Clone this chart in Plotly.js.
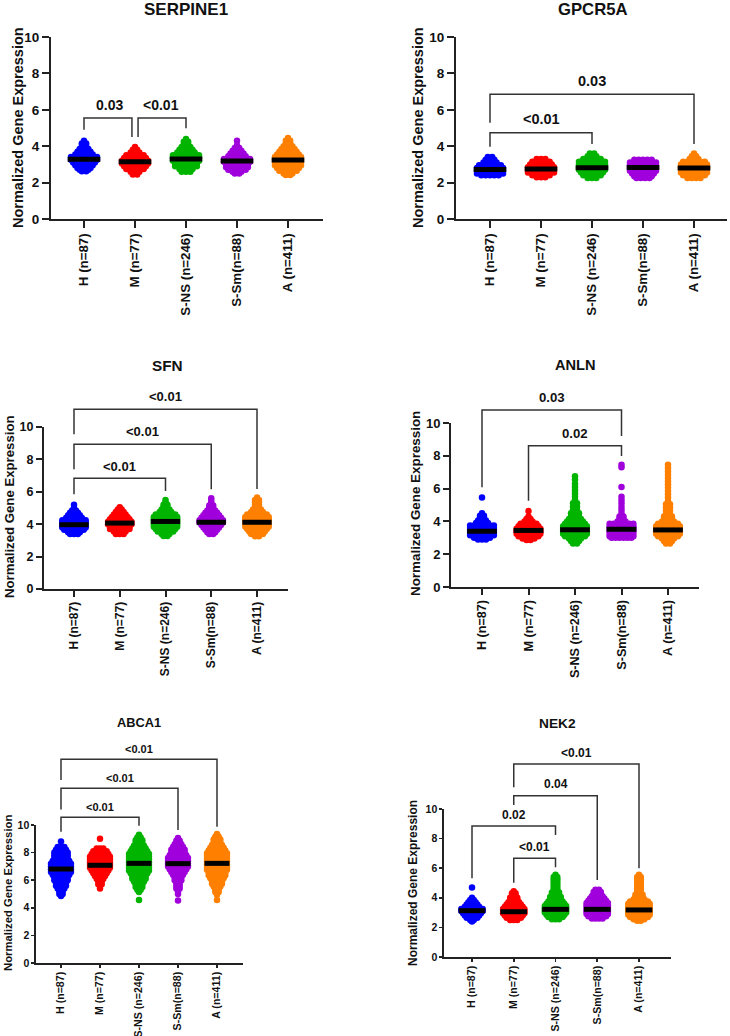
<!DOCTYPE html>
<html><head><meta charset="utf-8">
<script src="https://cdn.plot.ly/plotly-3.0.1.min.js"></script>
<style>html,body{margin:0;padding:0;background:#fff}#chart{width:730px;height:1036px}</style>
</head><body><div id="chart"></div>
<script>
// ---------------- DATA ----------------
const categories = ['H (n=87)', 'M (n=77)', 'S-NS (n=246)', 'S-Sm(n=88)', 'A (n=411)'];
const genes = ['SERPINE1', 'GPCR5A', 'SFN', 'ANLN', 'ABCA1', 'NEK2'];

// each group: rows of [expression value, dots drawn side by side at that value]
const SERPINE1_rows = [
  [[4.3,1],[4.15,2],[4.0,2],[3.85,3],[3.7,4],[3.55,5],[3.4,7],[3.25,7],[3.1,6],[2.95,5],[2.8,4],[2.7,3],[2.62,2]],
  [[3.95,1],[3.8,2],[3.65,3],[3.5,5],[3.35,6],[3.2,7],[3.05,7],[2.9,6],[2.75,5],[2.6,3],[2.45,2]],
  [[4.4,1],[4.25,2],[4.1,2],[3.95,3],[3.8,4],[3.65,5],[3.5,7],[3.35,7],[3.2,7],[3.05,6],[2.9,6],[2.75,4],[2.6,3]],
  [[4.3,1],[4.05,1],[3.9,2],[3.75,3],[3.6,4],[3.45,5],[3.3,7],[3.15,7],[3.0,6],[2.85,6],[2.7,5],[2.6,3],[2.5,2]],
  [[4.45,1],[4.3,2],[4.15,2],[4.0,3],[3.85,4],[3.7,5],[3.55,6],[3.4,7],[3.25,7],[3.1,7],[2.95,7],[2.8,6],[2.65,5],[2.5,3],[2.42,2]]
];
const SERPINE1_medians = [3.28, 3.15, 3.29, 3.19, 3.24];
// brackets: [group from, group to, left foot, top, right foot, p label]
const SERPINE1_brackets = [[0,1,4.9,5.55,4.5,'0.03'],[1,2,4.5,5.55,4.98,'<0.01']];

const GPCR5A_rows = [
  [[3.4,2],[3.25,3],[3.1,4],[2.95,6],[2.8,7],[2.65,7],[2.5,7],[2.4,5]],
  [[3.3,3],[3.15,5],[3.0,6],[2.85,7],[2.7,7],[2.55,7],[2.4,5],[2.3,3]],
  [[3.6,2],[3.45,3],[3.3,5],[3.15,7],[3.0,7],[2.85,7],[2.7,7],[2.55,6],[2.4,5],[2.25,3]],
  [[3.25,5],[3.1,7],[2.95,7],[2.8,7],[2.65,7],[2.5,6],[2.35,5],[2.25,4]],
  [[3.6,1],[3.45,2],[3.3,3],[3.15,6],[3.0,7],[2.85,7],[2.7,7],[2.55,7],[2.4,6],[2.25,4]]
];
const GPCR5A_medians = [2.72, 2.75, 2.81, 2.83, 2.8];
const GPCR5A_brackets = [[0,2,3.97,4.74,4.12,'<0.01'],[0,4,5.29,6.85,4.12,'0.03']];

const SFN_rows = [
  [[5.2,1],[5.0,1],[4.85,2],[4.7,3],[4.55,4],[4.4,5],[4.25,7],[4.1,7],[3.95,7],[3.8,7],[3.65,6],[3.5,4],[3.4,3]],
  [[5.05,1],[4.9,2],[4.75,3],[4.6,4],[4.45,5],[4.3,6],[4.15,7],[4.0,7],[3.85,6],[3.7,6],[3.55,4],[3.4,3]],
  [[5.5,1],[5.35,1],[5.2,2],[5.05,2],[4.9,3],[4.75,4],[4.6,6],[4.45,7],[4.3,7],[4.15,7],[4.0,7],[3.85,7],[3.7,6],[3.55,5],[3.4,3],[3.27,2]],
  [[5.6,1],[5.45,1],[5.3,1],[5.15,2],[5.0,2],[4.85,3],[4.7,4],[4.55,5],[4.4,6],[4.25,7],[4.1,7],[3.95,6],[3.8,5],[3.65,4],[3.5,3],[3.4,2]],
  [[5.65,1],[5.5,2],[5.35,2],[5.2,2],[5.05,2],[4.9,3],[4.75,4],[4.6,6],[4.45,7],[4.3,7],[4.15,7],[4.0,7],[3.85,7],[3.7,6],[3.55,5],[3.4,4],[3.25,2]]
];
const SFN_medians = [3.97, 4.07, 4.17, 4.12, 4.12];
const SFN_brackets = [[0,2,5.85,6.83,6.05,'<0.01'],[0,3,7.39,8.93,6.15,'<0.01'],[0,4,9.55,11.09,6.17,'<0.01']];

const ANLN_rows = [
  [[5.45,1],[4.5,1],[4.35,2],[4.2,2],[4.05,3],[3.9,4],[3.75,7],[3.6,7],[3.45,7],[3.3,7],[3.15,7],[3.0,5],[2.9,3]],
  [[4.63,1],[4.3,1],[4.15,2],[4.0,3],[3.85,5],[3.7,6],[3.55,7],[3.4,7],[3.25,7],[3.1,6],[2.95,4],[2.87,2]],
  [[6.75,1],[6.55,1],[6.3,1],[6.1,1],[5.9,1],[5.7,1],[5.5,1],[5.3,1],[5.1,2],[4.9,2],[4.7,2],[4.5,3],[4.3,3],[4.15,4],[4.0,5],[3.85,6],[3.7,7],[3.55,7],[3.4,7],[3.25,7],[3.1,6],[2.95,4],[2.8,3],[2.65,2]],
  [[7.45,1],[7.3,1],[6.1,1],[5.5,1],[5.3,1],[5.1,1],[4.9,1],[4.7,1],[4.5,1],[4.3,2],[4.15,2],[4.0,3],[3.85,7],[3.7,7],[3.55,7],[3.4,7],[3.25,7],[3.1,7],[3.0,6]],
  [[7.45,1],[7.25,1],[7.05,1],[6.85,1],[6.65,1],[6.45,1],[6.25,1],[6.05,1],[5.85,1],[5.65,1],[5.45,1],[5.25,1],[5.05,2],[4.85,2],[4.65,2],[4.45,2],[4.3,3],[4.15,3],[4.0,4],[3.85,6],[3.7,7],[3.55,7],[3.4,7],[3.25,7],[3.1,6],[2.95,4],[2.8,3],[2.65,2]]
];
const ANLN_medians = [3.4, 3.45, 3.49, 3.52, 3.48];
const ANLN_brackets = [[0,3,6.08,10.79,9.21,'0.03'],[1,3,5.26,8.62,7.99,'0.02']];

const ABCA1_rows = [
  [[8.8,1],[8.4,3],[8.2,4],[8.0,5],[7.8,5],[7.6,5],[7.4,6],[7.2,7],[7.0,7],[6.8,7],[6.6,7],[6.4,6],[6.2,5],[6.0,5],[5.8,4],[5.6,4],[5.4,3],[5.2,2],[5.0,2],[4.85,1]],
  [[9.0,1],[8.3,3],[8.1,5],[7.9,6],[7.7,7],[7.5,7],[7.3,7],[7.1,7],[6.9,7],[6.7,6],[6.5,5],[6.3,4],[6.1,3],[5.9,2],[5.7,2],[5.4,1]],
  [[9.3,1],[9.1,2],[8.9,3],[8.7,3],[8.5,4],[8.3,5],[8.1,6],[7.9,7],[7.7,7],[7.5,7],[7.3,7],[7.1,7],[6.9,7],[6.7,7],[6.5,6],[6.3,5],[6.1,5],[5.9,4],[5.7,3],[5.5,3],[5.3,2],[5.15,1],[4.57,1]],
  [[9.05,1],[8.85,2],[8.6,3],[8.4,4],[8.2,5],[8.0,5],[7.8,6],[7.6,7],[7.4,7],[7.2,7],[7.0,7],[6.8,6],[6.6,5],[6.4,4],[6.2,3],[6.0,3],[5.8,2],[5.6,2],[5.4,2],[5.2,1],[5.0,1],[4.52,1]],
  [[9.35,1],[9.15,2],[8.95,3],[8.75,3],[8.55,4],[8.35,5],[8.15,6],[7.95,7],[7.75,7],[7.55,7],[7.35,7],[7.15,7],[6.95,7],[6.75,7],[6.55,6],[6.35,6],[6.15,5],[5.95,4],[5.75,4],[5.55,3],[5.35,2],[5.15,2],[4.95,1],[4.57,1]]
];
const ABCA1_medians = [6.81, 7.08, 7.22, 7.2, 7.22];
const ABCA1_brackets = [[0,2,9.51,10.56,9.95,'<0.01'],[0,3,11.13,12.66,9.64,'<0.01'],[0,4,13.26,14.76,9.88,'<0.01']];

const NEK2_rows = [
  [[4.7,1],[4.0,1],[3.85,2],[3.7,3],[3.55,4],[3.4,5],[3.25,7],[3.1,7],[2.95,6],[2.8,5],[2.65,4],[2.5,2],[2.4,1]],
  [[4.45,1],[4.3,2],[4.15,2],[4.0,3],[3.85,3],[3.7,4],[3.55,5],[3.4,6],[3.25,7],[3.1,7],[2.95,7],[2.8,6],[2.65,5],[2.5,3]],
  [[5.55,1],[5.4,2],[5.25,2],[5.1,2],[4.95,2],[4.8,2],[4.65,2],[4.5,2],[4.35,3],[4.2,3],[4.05,4],[3.9,4],[3.75,5],[3.6,6],[3.45,7],[3.3,7],[3.15,7],[3.0,7],[2.85,6],[2.7,5],[2.55,3]],
  [[4.55,2],[4.4,3],[4.25,3],[4.1,4],[3.95,5],[3.8,6],[3.65,7],[3.5,7],[3.35,7],[3.2,7],[3.05,7],[2.9,7],[2.75,6],[2.6,4]],
  [[5.55,1],[5.4,2],[5.25,2],[5.1,2],[4.95,2],[4.8,2],[4.65,2],[4.5,2],[4.35,2],[4.2,3],[4.05,3],[3.9,4],[3.75,6],[3.6,7],[3.45,7],[3.3,7],[3.15,7],[3.0,7],[2.85,7],[2.7,6],[2.55,4],[2.45,2]]
];
const NEK2_medians = [3.13, 3.06, 3.22, 3.22, 3.18];
const NEK2_brackets = [[1,2,5.02,6.67,6.06,'<0.01'],[0,2,5.32,8.85,8.24,'0.02'],[1,3,10.27,10.9,5.2,'0.04'],[1,4,11.47,13.04,6.0,'<0.01']];

const yTicks = [0, 2, 4, 6, 8, 10];
const yAxisTitle = 'Normalized Gene Expression';

// ---------------- STYLE / LAYOUT ----------------
const groupColors = ['#0000FF', '#FF0000', '#00B400', '#A000DC', '#FF8000'];
const allRows = [SERPINE1_rows, GPCR5A_rows, SFN_rows, ANLN_rows, ABCA1_rows, NEK2_rows];
const allMedians = [SERPINE1_medians, GPCR5A_medians, SFN_medians, ANLN_medians, ABCA1_medians, NEK2_medians];
const allBrackets = [SERPINE1_brackets, GPCR5A_brackets, SFN_brackets, ANLN_brackets, ABCA1_brackets, NEK2_brackets];

const W = 730, H = 1036;
const FONT = 'Liberation Sans, Arial, Helvetica, sans-serif';
// pixel geometry of each panel (axis box, first/last category, y=0 and y=10 pixel rows, titles)
const panelGeom = [
  {l:51, r:323, c0:84, c4:288, y0:219, y10:37, tx:186, ty:10, ax:18, ay:128, lw:2, tl:7, f:{title:17, ytitle:14.5, ytick:13.5, xtick:13.3, ann:14}},
  {l:456, r:727, c0:490, c4:694, y0:219, y10:37, tx:593, ty:9, ax:418, ay:128, lw:2, tl:7, f:{title:16.7, ytitle:14.5, ytick:13.5, xtick:13.3, ann:14.5}},
  {l:44, r:288, c0:74, c4:257, y0:589, y10:427, tx:167, ty:365, ax:10, ay:507, lw:2, tl:6, f:{title:15.3, ytitle:13.2, ytick:12.5, xtick:12, ann:13}},
  {l:451, r:699, c0:482, c4:668, y0:587, y10:423, tx:575, ty:365, ax:415, ay:504, lw:2, tl:6, f:{title:14.6, ytitle:13.4, ytick:13, xtick:12.6, ann:13.2}},
  {l:36, r:243, c0:61, c4:217, y0:963, y10:825, tx:139, ty:722, ax:8, ay:893, lw:1.6, tl:3, f:{title:12.8, ytitle:11.3, ytick:10.5, xtick:10.6, ann:11}},
  {l:444, r:671, c0:472, c4:639, y0:957, y10:809, tx:557, ty:723, ax:413, ay:883, lw:1.6, tl:3, f:{title:13.7, ytitle:12, ytick:10.5, xtick:10.6, ann:12}}
];
const DX = 0.085;      // horizontal spacing of side-by-side dots (category units)
const HALF_BAR = 0.32; // half width of the median bar
const NUDGE = 0.06;    // offset of shared bracket legs

const traces = [];
const annotations = [];
const layout = {
  width: W, height: H, margin: {l:0, r:0, t:0, b:0},
  paper_bgcolor: '#fff', plot_bgcolor: 'rgba(0,0,0,0)',
  showlegend: false, hovermode: false,
  font: {family: FONT, color: '#111', weight: 700}
};
const sfx = n => (n === 1 ? '' : String(n));

genes.forEach((gene, p) => {
  const G = panelGeom[p];
  const xn = p + 1, yn = p + 1, bn = p + 7;
  const xid = 'x' + sfx(xn), yid = 'y' + sfx(yn), bid = 'y' + sfx(bn);
  const s = (G.c4 - G.c0) / 4;
  const ppu = (G.y0 - G.y10) / 10;
  layout['xaxis' + sfx(xn)] = {
    domain: [G.l / W, G.r / W], range: [(G.l - G.c0) / s, 4 + (G.r - G.c4) / s], anchor: yid,
    tickmode: 'array', tickvals: categories.map((c, i) => i), ticktext: categories, tickangle: -90,
    ticks: 'outside', ticklen: G.tl, tickwidth: G.lw, tickcolor: '#222',
    showline: true, linewidth: G.lw, linecolor: '#222', showgrid: false, zeroline: false,
    tickfont: {family: FONT, size: G.f.xtick, color: '#111', weight: 700}, fixedrange: true
  };
  layout['yaxis' + sfx(yn)] = {
    domain: [1 - G.y0 / H, 1 - G.y10 / H], range: [0, 10], anchor: xid,
    tickmode: 'array', tickvals: yTicks,
    ticks: 'outside', ticklen: G.tl, tickwidth: G.lw, tickcolor: '#222',
    showline: true, linewidth: G.lw, linecolor: '#222', showgrid: false, zeroline: false,
    tickfont: {family: FONT, size: G.f.ytick, color: '#111', weight: 700}, fixedrange: true
  };
  // hidden axis with the same scale, extended upward, used for the significance brackets
  const topVal = Math.min(16, Math.floor(G.y0 / ppu * 10) / 10);
  layout['yaxis' + sfx(bn)] = {
    domain: [1 - G.y0 / H, 1 - (G.y0 - topVal * ppu) / H], range: [0, topVal], anchor: xid,
    visible: false, showgrid: false, zeroline: false, fixedrange: true
  };

  // dots
  allRows[p].forEach((grp, gi) => {
    const xs = [], ys = [];
    grp.forEach(([v, k]) => {
      for (let j = 0; j < k; j++) { xs.push(gi + (j - (k - 1) / 2) * DX); ys.push(v); }
    });
    traces.push({type: 'scatter', mode: 'markers', x: xs, y: ys, xaxis: xid, yaxis: yid,
      marker: {size: 6.5, color: groupColors[gi], line: {width: 0}}, hoverinfo: 'skip', cliponaxis: false});
  });
  // medians
  const mx = [], my = [];
  allMedians[p].forEach((m, gi) => { mx.push(gi - HALF_BAR, gi + HALF_BAR, null); my.push(m, m, null); });
  traces.push({type: 'scatter', mode: 'lines', x: mx, y: my, xaxis: xid, yaxis: yid,
    line: {color: '#000', width: 5}, hoverinfo: 'skip'});
  // brackets
  const bx = [], by = [];
  const br = allBrackets[p];
  br.forEach(([a, b, f1, top, f2, lab]) => {
    let xa = a, xb = b;
    if (br.some(o => o[1] === a)) xa += NUDGE;
    if (br.some(o => o[0] === b)) xb -= NUDGE;
    bx.push(xa, xa, xb, xb, null); by.push(f1, top, top, f2, null);
    annotations.push({xref: xid, yref: bid, x: (a + b) / 2, y: top, text: lab, showarrow: false,
      xanchor: 'center', yanchor: 'middle', yshift: 0.95 * G.f.ann,
      font: {family: FONT, size: G.f.ann, color: '#111', weight: 700}});
  });
  traces.push({type: 'scatter', mode: 'lines', x: bx, y: by, xaxis: xid, yaxis: bid,
    line: {color: '#333', width: 1.5}, hoverinfo: 'skip'});

  // panel title and y-axis title
  annotations.push({xref: 'paper', yref: 'paper', x: G.tx / W, y: 1 - G.ty / H, text: gene, showarrow: false,
    xanchor: 'center', yanchor: 'middle', font: {family: FONT, size: G.f.title, color: '#111', weight: 700}});
  annotations.push({xref: 'paper', yref: 'paper', x: G.ax / W, y: 1 - G.ay / H, text: yAxisTitle, showarrow: false,
    textangle: -90, xanchor: 'center', yanchor: 'middle', font: {family: FONT, size: G.f.ytitle, color: '#111', weight: 700}});
});
layout.annotations = annotations;

Plotly.newPlot('chart', traces, layout, {displayModeBar: false, staticPlot: true});
</script>
</body></html>
